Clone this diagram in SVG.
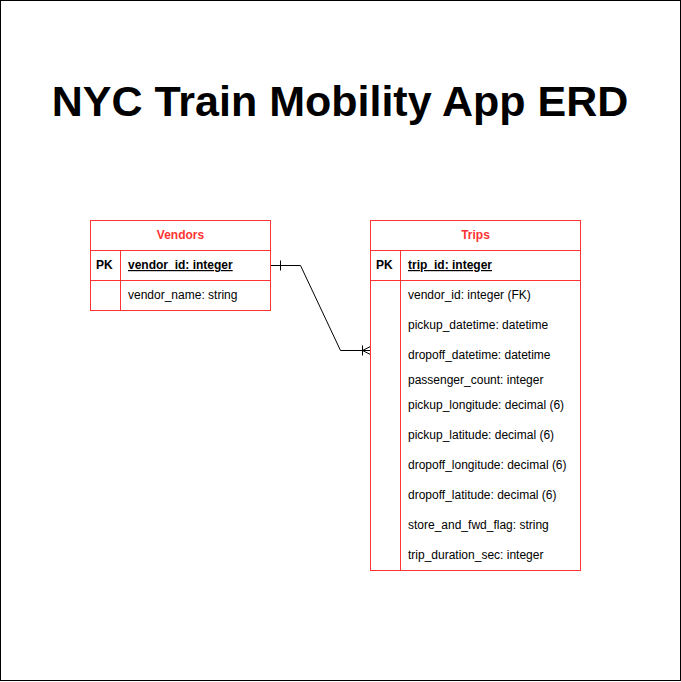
<svg xmlns="http://www.w3.org/2000/svg" width="681" height="682" viewBox="0 0 681 682">
<style>
.t{font-family:"Liberation Sans",Arial,sans-serif;font-size:12px;fill:#000}
.b{font-weight:bold}
.h{font-family:"Liberation Sans",Arial,sans-serif;font-size:12px;font-weight:bold;fill:#ff3333;text-anchor:middle}
.box{fill:#fff;stroke:#ff3333;stroke-width:1}
.ln{stroke:#ff3333;stroke-width:1;fill:none}
.c{stroke:#000;stroke-width:1;fill:none}
</style>
<rect x="0.5" y="0.5" width="680" height="680" fill="#fff" stroke="#000"/>
<text x="340" y="116" text-anchor="middle" style="font-family:'Liberation Sans',Arial,sans-serif;font-size:43px;font-weight:bold" fill="#000">NYC Train Mobility App ERD</text>
<g id="connectors">
<path class="c" d="M270.5 265.5H300.5L340.5 350.5H370.5"/>
<path class="c" d="M280.5 260.5V270.5"/>
<path class="c" d="M362.5 345.5V355.5M370.5 346.5L362.5 350.5L370.5 354.5"/>
</g>
<g id="vendors">
<rect class="box" x="90.5" y="220.5" width="180" height="90"/>
<path class="ln" d="M90.5 250.5H270.5M90.5 280.5H270.5M120.5 250.5V310.5"/>
<text class="h" x="180.5" y="239">Vendors</text>
<text class="t b" x="96" y="269">PK</text>
<text class="t b" x="128" y="269" text-decoration="underline">vendor_id: integer</text>
<text class="t" x="128" y="299">vendor_name: string</text>
</g>
<g id="trips">
<rect class="box" x="370.5" y="220.5" width="210" height="350"/>
<path class="ln" d="M370.5 250.5H580.5M370.5 280.5H580.5M400.5 250.5V570.5"/>
<text class="h" x="475.5" y="239">Trips</text>
<text class="t b" x="376" y="269">PK</text>
<text class="t b" x="408" y="269" text-decoration="underline">trip_id: integer</text>
<text class="t" x="408" y="299">vendor_id: integer (FK)</text>
<text class="t" x="408" y="329">pickup_datetime: datetime</text>
<text class="t" x="408" y="359">dropoff_datetime: datetime</text>
<text class="t" x="408" y="384">passenger_count: integer</text>
<text class="t" x="408" y="409">pickup_longitude: decimal (6)</text>
<text class="t" x="408" y="439">pickup_latitude: decimal (6)</text>
<text class="t" x="408" y="469">dropoff_longitude: decimal (6)</text>
<text class="t" x="408" y="499">dropoff_latitude: decimal (6)</text>
<text class="t" x="408" y="529">store_and_fwd_flag: string</text>
<text class="t" x="408" y="559">trip_duration_sec: integer</text>
</g>
</svg>
